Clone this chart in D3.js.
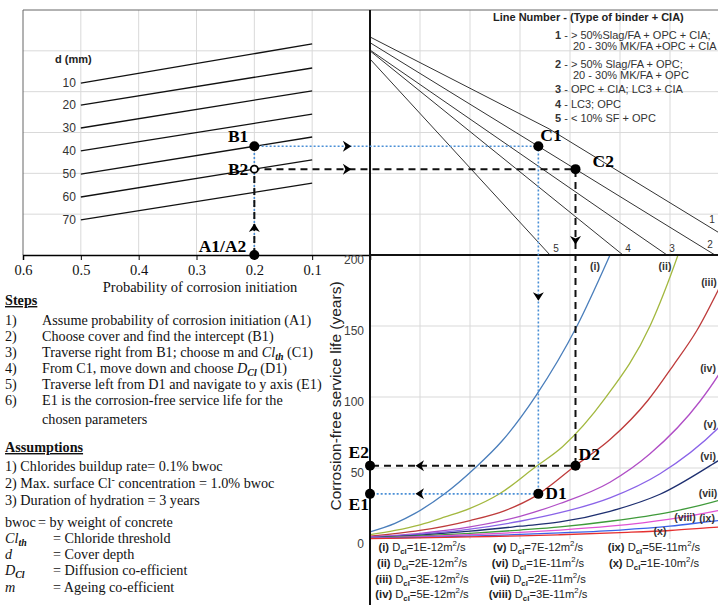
<!DOCTYPE html>
<html>
<head>
<meta charset="utf-8">
<title>Corrosion-free service life nomogram</title>
<script src="https://cdn.jsdelivr.net/npm/d3@7"></script>
<style>
  body { margin: 0; background: #fff; }
  text { font-family: "Liberation Sans", Arial, sans-serif; fill: #222; }
  .serif { font-family: "Liberation Serif", "Times New Roman", serif; fill: #111; }
  .grid line { stroke: #d9d9d9; stroke-width: 1; }
</style>
</head>
<body>
<div id="vis"></div>
<script>
// ---- values ----

// top-left panel: probability axis and cover depth lines
var probTicks = [0.6, 0.5, 0.4, 0.3, 0.2, 0.1];
var coverDepths = [10, 20, 30, 40, 50, 60, 70];
// height of each cover line (panel units 0-6) at prob 0.5 and at prob 0.1
var coverAt05 = [4.21, 3.67, 3.11, 2.55, 1.98, 1.42, 0.86];
var coverAt01 = [5.17, 4.58, 4.02, 3.45, 2.89, 2.33, 1.76];

// top-right panel: binder lines, [x, height] points (x shared with bottom chart)
var binderNames = ["1", "2", "3", "4", "5"];
var binderLines = [
    [[0, 5.34], [3.58, 3.09], [6.96, 0.56]],
    [[0, 5.2], [6.9, 0]],
    [[0, 5.02], [5.94, 0]],
    [[0, 5.0], [5.06, 0]],
    [[0, 4.8], [3.6, 0]]
];
var binderLabelAt = [[6.84, 0.78], [6.8, 0.17], [6.04, 0.07], [5.16, 0.07], [3.72, 0.07]];
var binderLegendTitle = "Line Number - (Type of binder + CIA)";
var binderLegendNum = ["1", "", "2", "", "3", "4", "5"];
var binderLegendText = [
    " - > 50%Slag/FA + OPC + CIA;",
    "20 - 30% MK/FA +OPC + CIA",
    " - > 50% Slag/FA + OPC;",
    "20 - 30% MK/FA + OPC",
    " - OPC + CIA; LC3 + CIA",
    " - LC3; OPC",
    " - < 10% SF + OPC"
];

// bottom chart: service life curves, [x, years]
var curveNames = ["(i)", "(ii)", "(iii)", "(iv)", "(v)", "(vi)", "(vii)", "(viii)", "(ix)", "(x)"];
var dclValues = ["1E-12", "2E-12", "3E-12", "5E-12", "7E-12", "1E-11", "2E-11", "3E-11", "5E-11", "1E-10"];
var curveColors = ["#4a7ebb", "#a3b83f", "#be3b3b", "#b04ec6", "#8a63e8", "#1e2f70", "#3f9a3a", "#e052d4", "#3a62e8", "#e53030"];
var lifeCurves = [
    [[0, 5], [0.5, 11], [0.9, 18], [1.5, 32], [2.1, 50], [2.64, 69], [3.32, 101], [4.14, 150], [4.8, 200], [5, 216]],
    [[0, 3], [0.5, 6], [1, 10], [1.5, 15.5], [2, 21.5], [2.6, 32], [3.3, 50.5], [3.85, 65], [4.7, 99], [5.6, 150], [6.16, 200], [6.4, 225]],
    [[0, 2], [1, 6], [2, 13], [2.7, 20], [3.3, 30], [4.1, 51.4], [4.8, 70], [5.56, 97.7], [6.06, 122], [6.54, 147], [6.96, 175], [7.1, 185]],
    [[0, 1.5], [1, 4], [2, 8.5], [3, 16], [3.8, 25], [4.8, 40], [5.6, 60], [6.6, 97], [6.96, 115], [7.1, 123]],
    [[0, 1.2], [1, 3.5], [2, 7], [3, 12.5], [3.8, 18.5], [4.8, 29], [5.8, 46], [6.96, 78], [7.1, 83]],
    [[0, 1], [1, 2.8], [2, 5.5], [3, 9], [3.8, 12], [4.8, 19.5], [5.8, 31.5], [6.96, 55], [7.1, 58]],
    [[0, 0.8], [1, 2.1], [2, 3.9], [3, 6.3], [3.8, 8.5], [4.8, 12.5], [6, 19], [6.96, 27], [7.1, 28.5]],
    [[0, 0.6], [1, 1.6], [2, 3], [3, 4.7], [3.8, 6.3], [4.8, 9], [6, 14], [6.96, 20], [7.1, 21]],
    [[0, 0.4], [1, 1.1], [2, 2], [3, 3.2], [3.8, 4.3], [5, 6.3], [6, 9], [6.96, 13], [7.1, 13.5]],
    [[0, 0.3], [1, 0.8], [2, 1.5], [3, 2.2], [3.8, 3], [5, 4.5], [6, 6], [6.96, 8.3], [7.1, 8.6]]
];
var curveLabelAt = [[4.5, 192], [5.9, 192], [6.78, 181], [6.76, 120], [6.8, 81], [6.76, 58], [6.76, 32], [6.3, 15.5], [6.74, 14.5], [5.8, 5.5]];
var lifeTicks = [0, 50, 100, 150, 200];

// worked example drawn over the nomogram
var exampleProb = 0.2;
var exampleCovers = [50, 60];   // B1, B2
var exampleBinder = 1;          // line 2
var exampleCurve = 2;           // (iii)

// text column on the left
var stepNums = ["1)", "2)", "3)", "4)", "5)", "6)", ""];
var stepTexts = [
    [["Assume probability of corrosion initiation (A1)"]],
    [["Choose cover and find the intercept (B1)"]],
    [["Traverse right from B1; choose m and "], ["Cl", "i"], ["th", "isub"], [" (C1)"]],
    [["From C1, move down and choose "], ["D", "i"], ["Cl", "isub"], [" (D1)"]],
    [["Traverse left from D1 and navigate to y axis (E1)"]],
    [["E1 is the corrosion-free service life for the"]],
    [["chosen parameters"]]
];
var assumptions = [
    [["1) Chlorides buildup rate= 0.1% bwoc"]],
    [["2) Max. surface Cl"], ["-", "sup"], [" concentration = 1.0% bwoc"]],
    [["3) Duration of hydration = 3 years"]]
];
var defTerms = [[["bwoc"]], [["Cl", "i"], ["th", "isub"]], [["d", "i"]], [["D", "i"], ["Cl", "isub"]], [["m", "i"]]];
var defTexts = ["= by weight of concrete", "= Chloride threshold", "= Cover depth", "= Diffusion co-efficient", "= Ageing co-efficient"];

// ---- setup ----
var svg = d3.select("#vis").append("svg")
    .attr("width", 728)
    .attr("height", 605)
    .style("background", "#fff");

var xProb = d3.scaleLinear().domain([0.6, 0]).range([23, 370]);
var yTop = d3.scaleLinear().domain([0, 6]).range([255, 10]);
var xD = d3.scaleLinear().domain([0, 7]).range([370, 720]);
var yLife = d3.scaleLinear().domain([0, 200]).range([539, 255]);

// rich text helper: segments [text, kind] with italic / bold / sub / sup
function rich(sel, segs) {
    var shift = 0;
    segs.forEach(function(s) {
        var k = s[1] || "";
        var t = sel.append("tspan").text(s[0]);
        var want = k.indexOf("sub") >= 0 ? 2.5 : (k.indexOf("sup") >= 0 ? -5 : 0);
        if (want - shift !== 0) t.attr("dy", want - shift);
        shift = want;
        if (k.indexOf("i") === 0) t.attr("font-style", "italic");
        if (k.indexOf("b") >= 0) t.attr("font-weight", "bold");
        if (want !== 0) t.attr("font-size", "70%");
    });
    return sel;
}

function interp(pts, x) {
    for (var i = 0; i < pts.length - 1; i++) {
        if (x >= pts[i][0] && x <= pts[i + 1][0]) {
            var t = (x - pts[i][0]) / (pts[i + 1][0] - pts[i][0]);
            return pts[i][1] + t * (pts[i + 1][1] - pts[i][1]);
        }
    }
    return pts[pts.length - 1][1];
}

// x on a polyline where its height equals h
function solveX(pts, h) {
    for (var i = 0; i < pts.length - 1; i++) {
        var a = pts[i], b = pts[i + 1];
        if ((h <= a[1] && h >= b[1]) || (h >= a[1] && h <= b[1])) {
            return a[0] + (h - a[1]) / (b[1] - a[1]) * (b[0] - a[0]);
        }
    }
    return null;
}

// ---- grids ----
var grid = svg.append("g").attr("class", "grid");
[1, 2, 3, 4, 5].forEach(function(v) {
    grid.append("line").attr("x1", xProb(0.6)).attr("x2", xD(6.96)).attr("y1", yTop(v)).attr("y2", yTop(v));
});
probTicks.slice(1).forEach(function(p) {
    grid.append("line").attr("x1", xProb(p)).attr("x2", xProb(p)).attr("y1", yTop(6)).attr("y2", yTop(0));
});
[1, 2, 3, 4, 5, 6].forEach(function(v) {
    grid.append("line").attr("x1", xD(v)).attr("x2", xD(v)).attr("y1", yTop(6)).attr("y2", yLife(0));
});
[50, 100, 150].forEach(function(v) {
    grid.append("line").attr("x1", xD(0)).attr("x2", xD(6.96)).attr("y1", yLife(v)).attr("y2", yLife(v));
});

// frame of the top panels
svg.append("line").attr("x1", xProb(0.6)).attr("x2", xProb(0.6)).attr("y1", yTop(6)).attr("y2", yTop(0))
    .attr("stroke", "#666").attr("stroke-width", 1);
svg.append("line").attr("x1", xProb(0.6)).attr("x2", xD(6.96)).attr("y1", yTop(6)).attr("y2", yTop(6))
    .attr("stroke", "#666").attr("stroke-width", 1);

// ---- top-left: cover lines ----
var coverG = svg.append("g");
coverDepths.forEach(function(d, i) {
    coverG.append("line")
        .attr("x1", xProb(0.5)).attr("y1", yTop(coverAt05[i]))
        .attr("x2", xProb(0.1)).attr("y2", yTop(coverAt01[i]))
        .attr("stroke", "#111").attr("stroke-width", 1.3);
    coverG.append("text")
        .attr("x", xProb(0.5) - 5).attr("y", yTop(coverAt05[i]) + 4)
        .attr("text-anchor", "end").attr("font-size", 12).style("fill", "#333")
        .text(d);
});
coverG.append("text")
    .attr("x", 55).attr("y", yTop(coverAt05[0]) - 20)
    .attr("font-size", 11).attr("font-weight", "bold")
    .text("d (mm)");

// probability axis
var xAxis = d3.axisBottom(xProb).tickValues(probTicks).tickSize(5).tickFormat(d3.format(".1f"));
var xAxisG = svg.append("g").attr("transform", "translate(0," + yTop(0) + ")").call(xAxis);
xAxisG.select(".domain").attr("stroke", "#000").attr("stroke-width", 1.5);
xAxisG.selectAll(".tick line").attr("stroke", "#000");
xAxisG.selectAll("text").attr("class", "serif").attr("font-size", 14.5).attr("y", 10);
svg.append("text").attr("class", "serif")
    .attr("x", 200).attr("y", 292).attr("text-anchor", "middle").attr("font-size", 14.5)
    .text("Probability of corrosion initiation");

// ---- top-right: binder lines ----
var lineGen = d3.line().x(function(d) { return xD(d[0]); }).y(function(d) { return yTop(d[1]); });
svg.append("g").selectAll("path").data(binderLines).enter().append("path")
    .attr("d", lineGen)
    .attr("fill", "none").attr("stroke", "#333").attr("stroke-width", 1);
svg.append("g").selectAll("text").data(binderNames).enter().append("text")
    .attr("x", function(d, i) { return xD(binderLabelAt[i][0]); })
    .attr("y", function(d, i) { return yTop(binderLabelAt[i][1]); })
    .attr("text-anchor", "middle").attr("font-size", 10).style("fill", "#333")
    .text(function(d) { return d; });

var legTop = svg.append("g");
legTop.append("text").attr("x", 493).attr("y", 21).attr("font-size", 11).attr("font-weight", "bold")
    .text(binderLegendTitle);
var legY = [39, 50, 68, 79, 93, 108, 122];
binderLegendText.forEach(function(t, i) {
    var txt = legTop.append("text")
        .attr("x", binderLegendNum[i] ? 555 : 573).attr("y", legY[i]).attr("font-size", 11).style("fill", "#333");
    if (binderLegendNum[i]) txt.append("tspan").attr("font-weight", "bold").text(binderLegendNum[i]);
    txt.append("tspan").text(t);
});

// ---- bottom: service life curves ----
svg.append("clipPath").attr("id", "plotClip").append("rect")
    .attr("x", xD(0)).attr("y", yLife(200)).attr("width", xD(6.96) - xD(0)).attr("height", yLife(0) - yLife(200) + 4);
var curveGen = d3.line()
    .x(function(d) { return xD(d[0]); })
    .y(function(d) { return yLife(d[1]); })
    .curve(d3.curveMonotoneX);
svg.append("g").attr("clip-path", "url(#plotClip)")
    .selectAll("path").data(lifeCurves).enter().append("path")
    .attr("d", curveGen)
    .attr("fill", "none")
    .attr("stroke", function(d, i) { return curveColors[i]; })
    .attr("stroke-width", 1.3);
svg.append("g").selectAll("text").data(curveNames).enter().append("text")
    .attr("x", function(d, i) { return xD(curveLabelAt[i][0]); })
    .attr("y", function(d, i) { return yLife(curveLabelAt[i][1]); })
    .attr("dy", "0.35em")
    .attr("text-anchor", "middle").attr("font-size", 10.5).attr("font-weight", "bold").style("fill", "#333")
    .text(function(d) { return d; });

var yAxis = d3.axisLeft(yLife).tickValues(lifeTicks).tickSize(0).tickPadding(6);
var yAxisG = svg.append("g").attr("transform", "translate(" + xD(0) + ",0)").call(yAxis);
yAxisG.select(".domain").remove();
yAxisG.selectAll("text").attr("font-size", 12).attr("font-family", "Liberation Sans, Arial, sans-serif")
    .style("fill", "#404040").attr("transform", "translate(0,5)");
svg.append("text")
    .attr("transform", "translate(341,396) rotate(-90)")
    .attr("text-anchor", "middle").attr("font-size", 15.5).style("fill", "#222")
    .text("Corrosion-free service life (years)");

// legend under the curves
var legCols = [422, 538, 654];
var legRows = [551, 567, 583, 598];
curveNames.forEach(function(n, i) {
    var col = i < 4 ? 0 : (i < 8 ? 1 : 2);
    var row = i < 4 ? i : (i < 8 ? i - 4 : i - 8);
    var t = svg.append("text").attr("x", legCols[col]).attr("y", legRows[row])
        .attr("text-anchor", "middle").attr("font-size", 11.2).style("fill", "#222");
    rich(t, [[n, "b"], [" D"], ["cl", "sub"], ["=" + dclValues[i] + "m"], ["2", "sup"], ["/s"]]);
});

// heavy axes of the bottom chart / divider
svg.append("line").attr("x1", xD(0)).attr("x2", xD(0)).attr("y1", yTop(6)).attr("y2", 605)
    .attr("stroke", "#111").attr("stroke-width", 2);
svg.append("line").attr("x1", xD(0)).attr("x2", xD(6.96)).attr("y1", yLife(200)).attr("y2", yLife(200))
    .attr("stroke", "#111").attr("stroke-width", 2);

// ---- worked example (A -> B -> C -> D -> E) ----
var paths = exampleCovers.map(function(c) {
    var i = coverDepths.indexOf(c);
    var t = (0.5 - exampleProb) / 0.4;
    var bH = coverAt05[i] + t * (coverAt01[i] - coverAt05[i]);
    var cX = solveX(binderLines[exampleBinder], bH);
    var dV = interp(lifeCurves[exampleCurve], cX);
    return {
        A: [xProb(exampleProb), yTop(0)],
        B: [xProb(exampleProb), yTop(bH)],
        C: [xD(cX), yTop(bH)],
        D: [xD(cX), yLife(dV)],
        E: [xD(0), yLife(dV)]
    };
});
var pxLine = d3.line();
var styles = [
    {stroke: "#4a8fd6", width: 1.6, dash: "2,2"},
    {stroke: "#111", width: 2, dash: "7,5"}
];
paths.forEach(function(p, k) {
    svg.append("path")
        .attr("d", pxLine([p.A, p.B, p.C, p.D, p.E]))
        .attr("fill", "none")
        .attr("stroke", styles[k].stroke)
        .attr("stroke-width", styles[k].width)
        .attr("stroke-dasharray", styles[k].dash);
});

// chevron arrows
function arrow(x, y, angle) {
    svg.append("path")
        .attr("d", "M-4,-5.5L4.5,0L-4,5.5L-1.5,0Z")
        .attr("transform", "translate(" + x + "," + y + ") rotate(" + angle + ")")
        .attr("fill", "#000");
}
arrow(xProb(exampleProb), yTop(0.66), -90);
paths.forEach(function(p) {
    arrow(xProb(0.04), p.B[1], 0);
    arrow(xD(1), p.E[1], 180);
});
arrow(paths[0].C[0], yLife(171), 90);
arrow(paths[1].C[0], yTop(0.37), 90);

// dots
var dotPts = [paths[0].A, paths[0].B, paths[0].C, paths[1].C, paths[0].D, paths[1].D, paths[0].E, paths[1].E];
svg.append("g").selectAll("circle").data(dotPts).enter().append("circle")
    .attr("cx", function(d) { return d[0]; })
    .attr("cy", function(d) { return d[1]; })
    .attr("r", 5).attr("fill", "#000");
svg.append("circle").attr("cx", paths[1].B[0]).attr("cy", paths[1].B[1]).attr("r", 3.6)
    .attr("fill", "#fff").attr("stroke", "#000").attr("stroke-width", 1.8);

// point labels, offset from their dots
var ptLabels = [
    ["A1/A2", paths[0].A, -8, -3, "end"],
    ["B1", paths[0].B, -6, -4, "end"],
    ["B2", paths[1].B, -6, 6, "end"],
    ["C1", paths[0].C, 2, -5, "start"],
    ["C2", paths[1].C, 17, -2, "start"],
    ["D1", paths[0].D, 7, 5, "start"],
    ["D2", paths[1].D, 3, -6, "start"],
    ["E1", paths[0].E, -1, 16, "end"],
    ["E2", paths[1].E, -1, -8, "end"]
];
ptLabels.forEach(function(l) {
    svg.append("text").attr("class", "serif")
        .attr("x", l[1][0] + l[2]).attr("y", l[1][1] + l[3])
        .attr("text-anchor", l[4])
        .attr("font-size", 17.5).attr("font-weight", "bold").style("fill", "#000")
        .text(l[0]);
});

// ---- text column ----
var col = svg.append("g");
col.append("text").attr("class", "serif").attr("x", 5).attr("y", 305).attr("font-size", 14.2)
    .attr("font-weight", "bold").attr("text-decoration", "underline").text("Steps");
var stepY = [325, 341, 357, 373, 389, 405, 424];
stepTexts.forEach(function(s, i) {
    if (stepNums[i]) {
        col.append("text").attr("class", "serif").attr("x", 5).attr("y", stepY[i]).attr("font-size", 14.2).text(stepNums[i]);
    }
    rich(col.append("text").attr("class", "serif").attr("x", 42).attr("y", stepY[i]).attr("font-size", 14.2), s);
});
col.append("text").attr("class", "serif").attr("x", 5).attr("y", 452).attr("font-size", 14.2)
    .attr("font-weight", "bold").attr("text-decoration", "underline").text("Assumptions");
var assumY = [471, 488, 505];
assumptions.forEach(function(s, i) {
    rich(col.append("text").attr("class", "serif").attr("x", 5).attr("y", assumY[i]).attr("font-size", 14.2), s);
});
var defY = [527, 543, 559, 575, 592];
defTerms.forEach(function(s, i) {
    rich(col.append("text").attr("class", "serif").attr("x", 5).attr("y", defY[i]).attr("font-size", 14.2), s);
    col.append("text").attr("class", "serif").attr("x", i === 0 ? 38 : 53).attr("y", defY[i]).attr("font-size", 14.2)
        .text(defTexts[i]);
});
</script>
</body>
</html>
